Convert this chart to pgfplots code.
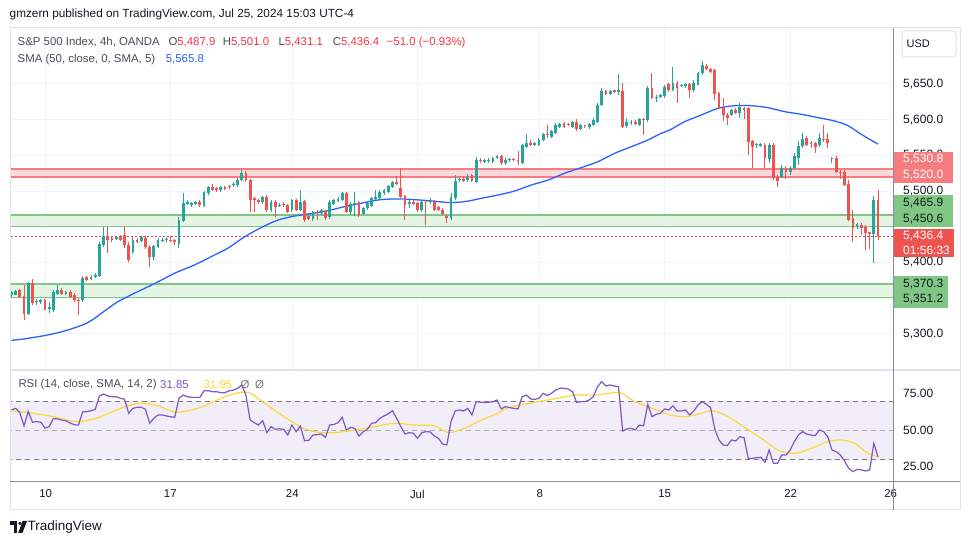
\documentclass[border=0pt]{standalone}
\usepackage{fontspec}
\setmainfont{Liberation Sans}
\usepackage{pgfplots}
\pgfplotsset{compat=1.18}
\usepgfplotslibrary{fillbetween}
\usepackage{pgfplotstable}
\definecolor{upc}{HTML}{26A69A}
\definecolor{dnc}{HTML}{EF5350}
\definecolor{smac}{HTML}{2962FF}
\definecolor{rsic}{HTML}{7E57C2}
\definecolor{rsimac}{HTML}{FDD835}
\definecolor{gridc}{HTML}{F0F3FA}
\definecolor{txt}{HTML}{131722}
\definecolor{lg}{HTML}{4A4D57}
\definecolor{redv}{HTML}{F23645}
\definecolor{pinkL}{HTML}{F77C80}
\definecolor{pinkF}{HTML}{FCD9DA}
\definecolor{grnL}{HTML}{81C784}
\definecolor{grnF}{HTML}{E6F4E6}
\definecolor{bandc}{HTML}{F2EEF9}
\definecolor{dashc}{HTML}{787B86}
\definecolor{borderc}{HTML}{E0E3EB}
\definecolor{axc}{HTML}{8A8D96}
\definecolor{obg}{HTML}{4CAF50}

\newcommand\fA{\fontsize{11.4}{13}\selectfont}
\newcommand\fB{\fontsize{12}{14}\selectfont}

\pgfplotstableread{
i o h l c
0 5355 5360 5352 5358
1 5355 5362 5354 5360
2 5361 5363 5350 5352
3 5353 5369 5320 5328
4 5328 5373 5326 5371
5 5371 5377 5341 5343
6 5344 5349 5340 5345.5
7 5344 5349 5342 5347
8 5347 5349 5333 5334
9 5335 5344 5329 5337
10 5334 5361 5331 5358
11 5356 5368 5354 5362
12 5362 5364 5354 5356
13 5356 5360 5355 5358.5
14 5359 5362 5350 5352
15 5354 5357 5344 5347
16 5348 5350 5326 5346
17 5347 5381 5345 5378
18 5379 5381 5374 5376
19 5377 5382 5375 5380
20 5380 5385 5378 5383
21 5381 5428 5379 5426
22 5424 5449 5421 5437
23 5437 5450 5413 5431
24 5434 5436 5428 5432
25 5433 5437 5431 5435.5
26 5437 5439 5430 5432
27 5438 5449 5420 5425
28 5425 5428 5400 5404
29 5414 5435 5412 5432
30 5432 5434 5427 5429
31 5430 5437 5428 5435
32 5434 5437 5419 5421
33 5422 5424 5393 5407
34 5408 5425 5404 5423
35 5422 5434 5420 5431
36 5430 5434 5428 5432
37 5431 5435 5429 5433
38 5432 5437 5428 5430
39 5431 5433 5425 5428
40 5426 5463 5420 5460
41 5458 5497 5456 5483
42 5482 5488 5480 5484
43 5480 5485 5478 5483
44 5482 5486 5480 5484
45 5485 5487 5478 5480
46 5479 5500 5477 5498
47 5497 5507 5495 5505
48 5505 5510 5500 5502
49 5504 5506 5499 5501
50 5501 5507 5499 5505
51 5505 5507 5501 5503
52 5507 5509 5503 5505
53 5508 5512 5506 5510.5
54 5508 5518 5506 5516
55 5516 5530 5514 5526
56 5526 5528 5513 5515
57 5515 5517 5471 5488
58 5490 5492 5470 5487
59 5487 5489 5482 5484
60 5484 5493 5482 5491
61 5492 5494 5471 5473
62 5473 5487 5471 5485
63 5485 5487 5463 5478
64 5479 5483 5477 5481
65 5482 5484 5478 5480
66 5480 5482 5469 5471
67 5473 5489 5471 5487
68 5487 5489 5472 5474
69 5474 5502 5472 5485
70 5486 5488 5457 5459
71 5465 5467 5459 5461
72 5461 5472 5458 5470
73 5471 5473 5459 5469
74 5469 5475 5467 5473
75 5472 5474 5460 5462
76 5463 5487 5461 5484
77 5482 5489 5480 5487
78 5486 5491 5484 5489
79 5488 5499 5486 5497
80 5497 5499 5469 5471
81 5471 5484 5466 5482
82 5481 5498 5465 5483
83 5484 5486 5464 5466
84 5468 5478 5466 5476
85 5476 5485 5474 5483
86 5479 5492 5477 5490
87 5489 5502 5487 5491
88 5490 5501 5488 5499
89 5497 5503 5495 5501
90 5499 5509 5497 5507
91 5506 5514 5504 5512
92 5512 5521 5508 5510
93 5504 5533 5490 5492
94 5493 5495 5460 5480
95 5482 5488 5476 5484
96 5485 5487 5480 5482
97 5483 5485 5471 5473
98 5473 5487 5471 5485
99 5486 5488 5452 5485
100 5484 5490 5482 5486
101 5485 5487 5472 5474
102 5477 5479 5472 5474
103 5474 5476 5466 5468
104 5465 5467 5455 5462
105 5462 5497 5460 5492
106 5490 5522 5488 5514
107 5515 5519 5513 5517
108 5517 5519 5512 5514
109 5515 5524 5513 5520
110 5522 5524 5512 5514
111 5513 5548 5511 5543
112 5544 5546 5540 5542
113 5541 5545 5539 5543
114 5542 5546 5540 5544
115 5541 5548 5539 5546
116 5547 5551 5545 5549
117 5549 5551 5537 5539
118 5539 5546 5537 5544
119 5543 5547 5541 5545
120 5545 5547 5542 5543.5
121 5544 5556 5537 5542
122 5540 5566 5538 5564
123 5562 5580 5560 5568
124 5567 5572 5563 5565
125 5565 5569 5563 5567
126 5565 5574 5563 5572
127 5572 5582 5570 5580
128 5580 5592 5574 5578
129 5576 5586 5574 5584
130 5582 5595 5580 5592
131 5590 5596 5588 5594
132 5595 5597 5588 5590
133 5594 5596 5591 5593
134 5590 5598 5588 5596.5
135 5597 5601 5584 5587
136 5587 5594 5585 5592
137 5592 5593 5589 5590.5
138 5590 5596 5587 5594
139 5593 5603 5591 5600
140 5597 5623 5595 5621
141 5621 5645 5619 5640
142 5640 5642 5634 5636
143 5636 5642 5634 5640
144 5641 5642 5637 5639
145 5639 5664 5634 5641
146 5640 5651 5588 5590
147 5591 5603 5588 5597
148 5595 5600 5593 5597
149 5597 5599 5592 5593.5
150 5593 5603 5591 5601
151 5601 5603 5579 5599
152 5599 5647 5597 5645
153 5645 5666 5629 5631
154 5630 5634 5625 5632
155 5632 5636 5630 5634
156 5633 5648 5631 5646
157 5650 5652 5639 5641
158 5642 5674 5640 5652
159 5652 5654 5624 5644
160 5648 5650 5646 5648.6
161 5647 5651 5645 5649.5
162 5650 5652 5631 5641
163 5641 5656 5639 5652
164 5649 5667 5648 5665
165 5665 5682 5663 5677
166 5675 5678 5669 5671
167 5671 5673 5665 5667
168 5669 5671 5628 5636
169 5637 5639 5616 5617
170 5617 5631 5598 5606
171 5607 5609 5593 5603
172 5607 5615 5605 5613
173 5614 5616 5608 5610
174 5610 5624 5602 5618
175 5616 5618 5601 5614
176 5616 5618 5551 5569
177 5570 5572 5533 5562
178 5564 5567 5561 5566
179 5563.5 5567 5562 5565.5
180 5565 5567 5532 5546
181 5545 5567 5540 5565
182 5565 5567 5516 5518
183 5520 5522 5505 5514
184 5520 5537 5518 5533
185 5533 5535 5517 5527
186 5527 5535 5522 5533
187 5533 5554 5531 5549
188 5547 5570 5536 5563
189 5563 5581 5561 5573
190 5575 5577 5563 5565
191 5568 5570 5561 5566
192 5567 5569 5553 5562
193 5564 5582 5562 5575
194 5573 5593 5569 5572
195 5573 5582 5561 5567
196 5545 5548 5539 5547
197 5547 5549 5525 5527
198 5527 5529 5517 5525
199 5527 5530 5507 5509
200 5510 5515 5458 5460
201 5462 5474 5429 5448
202 5449 5455 5447 5453.5
203 5453 5455 5438 5448
204 5449 5452 5418 5441
205 5442 5443 5419 5440
206 5440 5493 5399 5487.9
207 5487.9 5501.0 5431.1 5436.4
}\candles

\pgfplotstableread{
i r
0 64
1 65
2 62
3 53
4 63
5 55.5
6 56
7 55.5
8 51.5
9 52.5
10 58
11 57.8
12 57
13 56.5
14 55
15 53.8
16 53.6
17 62.7
18 62.7
19 63.4
20 64.3
21 73.5
22 74.8
23 73.5
24 73
25 73
26 71.9
27 71.2
28 61.6
29 65
30 65.7
31 65.7
32 64.3
33 54.8
34 58.2
35 60.5
36 60.5
37 59.8
38 59.3
39 58.9
40 71.9
41 74.1
42 73
43 72.5
44 72.5
45 72.5
46 77.1
47 77.1
48 76.4
49 76.4
50 75.7
51 75.7
52 77
53 77.5
54 78.7
55 81
56 74
57 57.1
58 55.2
59 53.6
60 56.6
61 48.4
62 52.5
63 50.7
64 51
65 50.7
66 46.8
67 53.6
68 49
69 52.9
70 42.9
71 43
72 46.8
73 47
74 47.5
75 45.2
76 53.6
77 54
78 55.2
79 58.9
80 50.2
81 52
82 51.3
83 46.1
84 49
85 50.6
86 54.8
87 55.2
88 58.2
89 59.8
90 61.2
91 63.4
92 58.2
93 52.5
94 47.5
95 48.4
96 48
97 44.5
98 48.4
99 49.1
100 48.9
101 46.1
102 44.5
103 40.6
104 40
105 56
106 63.2
107 63.9
108 63.2
109 65
110 60.5
111 69.6
112 69.2
113 69
114 69.2
115 69.6
116 70.7
117 64.6
118 66.2
119 65.5
120 65
121 64.6
122 73
123 74.1
124 71.4
125 71.2
126 71.8
127 75.3
128 73.7
129 75.3
130 77.6
131 78.7
132 78.7
133 78.2
134 76.4
135 69.1
136 69.6
137 69.6
138 70.7
139 73
140 79.8
141 83.3
142 80.3
143 81
144 80.3
145 79.8
146 49.5
147 50.9
148 51.4
149 50.2
150 53.6
151 53.1
152 67.8
153 59.3
154 60.9
155 61.6
156 64.6
157 63.9
158 66.8
159 63.2
160 63.2
161 63.9
162 60.5
163 63.2
164 67.3
165 69.6
166 67.8
167 65.5
168 50.9
169 43.4
170 40
171 39.5
172 43.4
173 42.7
174 45.6
175 45
176 30.8
177 30.8
178 31.3
179 31.5
180 28.1
181 36.5
182 27.4
183 27.4
184 33.1
185 33.1
186 36.5
187 42.2
188 46.8
189 49.1
190 47.3
191 46.8
192 46.4
193 50.2
194 49.1
195 45.6
196 36.5
197 35.4
198 33.1
199 29
200 24
201 21.7
202 23.3
203 22.9
204 22.2
205 22.9
206 41.1
207 31.85
}\rsidata

\pgfplotstableread{
i v
0 5291
3.1 5293
8.7 5298.5
13.5 5305.5
18.3 5316
22.2 5332
25.4 5345
29.4 5357
34.2 5370.5
39 5385
43.7 5396.5
48.5 5410.5
51.7 5420
55.7 5436
59.7 5449
63.7 5459.5
67.6 5465
71.6 5468.5
75.6 5472.6
79.6 5478.2
83.6 5483
87.5 5487.5
91.5 5489
94.7 5488.5
99.5 5486.6
104.5 5484
108.3 5485.2
112.2 5489.8
116.2 5494.5
120.2 5500.1
124.2 5508.5
128.2 5515.5
132.1 5524.9
136.1 5532.8
140.1 5541.2
144.1 5552.9
148.1 5562.2
152 5571.5
155.2 5580.9
157.3 5585.6
160.8 5597.2
164.8 5606.6
168.8 5615.9
172.8 5619.6
176.7 5619.6
180.7 5616.8
184.7 5611.2
188.7 5607.5
192.7 5602.8
196.6 5598.2
199.8 5591.6
203 5579.5
207 5565.8
}\smadata

\pgfplotstableread{
i v
0 63.4
5.2 61.6
10 59.3
15.6 55.9
20.3 58.2
23.5 62
27 66
30.7 68.4
34.7 67
39.4 62.3
45 65.5
49 70.5
52 74
55 76
57 75.5
60 69.5
64.5 60.5
67 56
69.2 52
73.2 48.6
77.2 48.4
82 50.2
86.8 52.5
91.5 54.8
96.3 53.6
101.1 53
104.3 48.5
108.3 51.4
112.2 57
116.2 61.6
118.2 65
121.8 67.3
126.6 70
131.4 72.3
134.5 74.1
139.3 74.1
144.1 75.7
145.7 75.5
148.9 69.6
152 66.2
155.2 62.7
157.3 60.5
160.8 59.3
164.8 61.6
167.2 63.5
170.4 60.5
174.3 53.6
179.1 44.5
183.1 36.5
187.1 34.2
191.1 37.7
195 42.2
198.2 43.4
201.4 41.1
204.6 34.2
207 31.95
}\rsimadata

\begin{document}
\begin{tikzpicture}[x=1pt,y=1pt]
\fill[white] (0,0) rectangle (970,545);

% ---------- price pane ----------
\begin{axis}[
  at={(10pt,175pt)}, anchor=south west, scale only axis,
  width=883pt, height=342pt,
  xmin=-0.36, xmax=210.58, ymin=5249.4, ymax=5728.4,
  axis line style={draw=none},
  major tick length=0pt,
  xtick={8.17,37.94,67.08,96.94,126.18,156.04,186.14,210.04},
  xticklabels={},
  ytick={5300,5350,5400,5450,5500,5550,5600,5650},
  yticklabels={{5,300.0},{},{5,400.0},{},{5,500.0},{5,550.0},{5,600.0},{5,650.0}},
  yticklabel pos=right,
  yticklabel style={anchor=west, inner sep=0pt, xshift=10pt, font=\fB, text=txt},
  grid=major, grid style={gridc, line width=1pt},
]
\addplot[fill=pinkF, draw=none] coordinates {(-1,5520) (212,5520) (212,5530.8) (-1,5530.8)} -- cycle;
\addplot[pinkL, line width=1.5pt] coordinates {(-1,5530.8) (212,5530.8)};
\addplot[pinkL, line width=2.5pt] coordinates {(-1,5520) (212,5520)};
\addplot[fill=grnF, draw=none] coordinates {(-1,5450.6) (212,5450.6) (212,5465.9) (-1,5465.9)} -- cycle;
\addplot[grnL, line width=2pt] coordinates {(-1,5465.9) (212,5465.9)};
\addplot[grnL, line width=1.6pt] coordinates {(-1,5450.6) (212,5450.6)};
\addplot[fill=grnF, draw=none] coordinates {(-1,5351.2) (212,5351.2) (212,5370.3) (-1,5370.3)} -- cycle;
\addplot[grnL, line width=2pt] coordinates {(-1,5370.3) (212,5370.3)};
\addplot[grnL, line width=1.4pt] coordinates {(-1,5351.2) (212,5351.2)};
\addplot[redv, line width=1pt, dash pattern=on 1.5pt off 2.5pt] coordinates {(-1,5436.4) (212,5436.4)};
\addplot[smac, line width=1.3pt, smooth] table[x=i,y=v] {\smadata};
% wicks
\addplot[draw=none, mark=none, restrict expr to domain={\thisrow{c}-\thisrow{o}}{0:100000},
  error bars/.cd, y dir=plus, y explicit, error mark=none, error bar style={draw=upc, line width=1pt}]
  table[x=i, y=l, y error plus expr={\thisrow{h}-\thisrow{l}}] {\candles};
\addplot[draw=none, mark=none, restrict expr to domain={\thisrow{c}-\thisrow{o}}{-100000:-0.00001},
  error bars/.cd, y dir=plus, y explicit, error mark=none, error bar style={draw=dnc, line width=1pt}]
  table[x=i, y=l, y error plus expr={\thisrow{h}-\thisrow{l}}] {\candles};
% bodies
\addplot[draw=none, mark=none, restrict expr to domain={\thisrow{c}-\thisrow{o}}{0:100000},
  error bars/.cd, y dir=plus, y explicit, error mark=none, error bar style={draw=upc, line width=2.8pt}]
  table[x=i, y expr={min(\thisrow{o},\thisrow{c})}, y error plus expr={abs(\thisrow{c}-\thisrow{o})}] {\candles};
\addplot[draw=none, mark=none, restrict expr to domain={\thisrow{c}-\thisrow{o}}{-100000:-0.00001},
  error bars/.cd, y dir=plus, y explicit, error mark=none, error bar style={draw=dnc, line width=2.8pt}]
  table[x=i, y expr={min(\thisrow{o},\thisrow{c})}, y error plus expr={abs(\thisrow{c}-\thisrow{o})}] {\candles};
\end{axis}

% ---------- RSI pane ----------
\begin{axis}[
  at={(10pt,63pt)}, anchor=south west, scale only axis,
  width=883pt, height=111pt,
  xmin=-0.36, xmax=210.58, ymin=14.65, ymax=90.55,
  axis line style={draw=none},
  major tick length=0pt,
  xtick={8.17,37.94,67.08,96.94,126.18,156.04,186.14,210.04},
  xticklabels={10,17,24,Jul,8,15,22,26},
  xticklabel style={anchor=center, yshift=-12pt, font=\fA, text=txt},
  ytick={25,50,75},
  yticklabels={25.00,50.00,75.00},
  yticklabel pos=right,
  yticklabel style={anchor=west, inner sep=0pt, xshift=10pt, font=\fB, text=txt},
  grid=major, grid style={gridc, line width=1pt},
]
\addplot[fill=bandc, draw=none] coordinates {(-1,30) (212,30) (212,70) (-1,70)} -- cycle;
\addplot[dashc, line width=1pt, dash pattern=on 5pt off 4pt] coordinates {(-1,70) (212,70)};
\addplot[dashc!60, line width=1pt, dash pattern=on 5pt off 4pt] coordinates {(-1,50) (212,50)};
\addplot[dashc, line width=1pt, dash pattern=on 5pt off 4pt] coordinates {(-1,30) (212,30)};
\addplot[draw=none, name path=l70] coordinates {(0,70) (207,70)};
\addplot[draw=none, name path=l30] coordinates {(0,30) (207,30)};
\addplot[draw=none, name path=rsip] table[x=i,y=r] {\rsidata};
\addplot[fill=obg, fill opacity=0.22, draw=none] fill between[of=rsip and l70, soft clip={domain y=70:100}];
\addplot[fill=redv, fill opacity=0.18, draw=none] fill between[of=rsip and l30, soft clip={domain y=0:30}];
\addplot[rsimac, line width=1.2pt, smooth] table[x=i,y=v] {\rsimadata};
\addplot[rsic, line width=1.2pt] table[x=i,y=r] {\rsidata};
\end{axis}

% ---------- frame ----------
\draw[borderc, line width=1pt] (10,35) rectangle (960,517);
\draw[borderc, line width=1.5pt] (10,175) -- (960,175);
\draw[axc, line width=1pt] (10,63) -- (960,63);
\draw[axc, line width=1pt] (893.5,35) -- (893.5,517);

% ---------- header & legends ----------
\node[anchor=west, inner sep=0pt, font=\fontsize{11.8}{14}\selectfont, text=txt] at (9.5,531) {gmzern published on TradingView.com, Jul 25, 2024 15:03 UTC-4};
\node[anchor=west, inner sep=0pt, font=\fA, text=lg] at (17.5,502.5) {S\&P 500 Index, 4h, OANDA};
\node[anchor=west, inner sep=0pt, font=\fA] at (168.3,502.5) {\textcolor{lg}{O}\textcolor{redv}{5,487.9}};
\node[anchor=west, inner sep=0pt, font=\fA] at (222.7,502.5) {\textcolor{lg}{H}\textcolor{redv}{5,501.0}};
\node[anchor=west, inner sep=0pt, font=\fA] at (278.3,502.5) {\textcolor{lg}{L}\textcolor{redv}{5,431.1}};
\node[anchor=west, inner sep=0pt, font=\fA] at (332.7,502.5) {\textcolor{lg}{C}\textcolor{redv}{5,436.4}};
\node[anchor=west, inner sep=0pt, font=\fA, text=redv] at (386.7,502.5) {−51.0 (−0.93\%)};
\node[anchor=west, inner sep=0pt, font=\fA, text=lg] at (17.5,485.7) {SMA (50, close, 0, SMA, 5)};
\node[anchor=west, inner sep=0pt, font=\fA, text=smac] at (165.7,485.7) {5,565.8};
\node[anchor=west, inner sep=0pt, font=\fA, text=lg] at (18.3,160) {RSI (14, close, SMA, 14, 2)};
\node[anchor=west, inner sep=0pt, font=\fA, text=rsic] at (160,160) {31.85};
\node[anchor=west, inner sep=0pt, font=\fA, text=rsimac] at (203.3,160) {31.95};
\node[anchor=west, inner sep=0pt, font=\fA, text=dashc] at (240.5,160) {Ø};
\node[anchor=west, inner sep=0pt, font=\fA, text=dashc] at (255,160) {Ø};

% ---------- price tags ----------
\fill[pinkL] (893.5,362) rectangle (953,393);
\node[anchor=west, inner sep=0pt, font=\fB, text=white] at (903,385.5) {5,530.8};
\node[anchor=west, inner sep=0pt, font=\fB, text=white] at (903,369.5) {5,520.0};
\fill[grnL] (893.5,318) rectangle (953,350);
\node[anchor=west, inner sep=0pt, font=\fB, text=txt] at (903,342) {5,465.9};
\node[anchor=west, inner sep=0pt, font=\fB, text=txt] at (903,326) {5,450.6};
\fill[dnc] (893.5,287.5) rectangle (954,316);
\node[anchor=west, inner sep=0pt, font=\fB, text=white] at (903,308.5) {5,436.4};
\node[anchor=west, inner sep=0pt, font=\fB, text=white] at (903,294.5) {01:56:33};
\fill[grnL] (893.5,237) rectangle (948,269);
\node[anchor=west, inner sep=0pt, font=\fB, text=txt] at (903,261) {5,370.3};
\node[anchor=west, inner sep=0pt, font=\fB, text=txt] at (903,246) {5,351.2};

% ---------- USD button ----------
\draw[borderc, rounded corners=3pt, line width=1pt] (902,488) rectangle (956,514);
\node[anchor=west, inner sep=0pt, font=\fontsize{11}{13}\selectfont, text=txt] at (906.5,501) {USD};

% ---------- logo ----------
\fill[txt] (10,20) rectangle (17,24);
\fill[txt] (13.5,12) rectangle (17,20);
\fill[txt] (20,21.6) circle (1.7);
\fill[txt] (22.6,24) -- (27,24) -- (22.4,12) -- (18.2,12) -- cycle;
\node[anchor=west, inner sep=0pt, font=\fontsize{13.5}{15}\selectfont, text=txt] at (27.5,18) {TradingView};
\end{tikzpicture}
\end{document}
